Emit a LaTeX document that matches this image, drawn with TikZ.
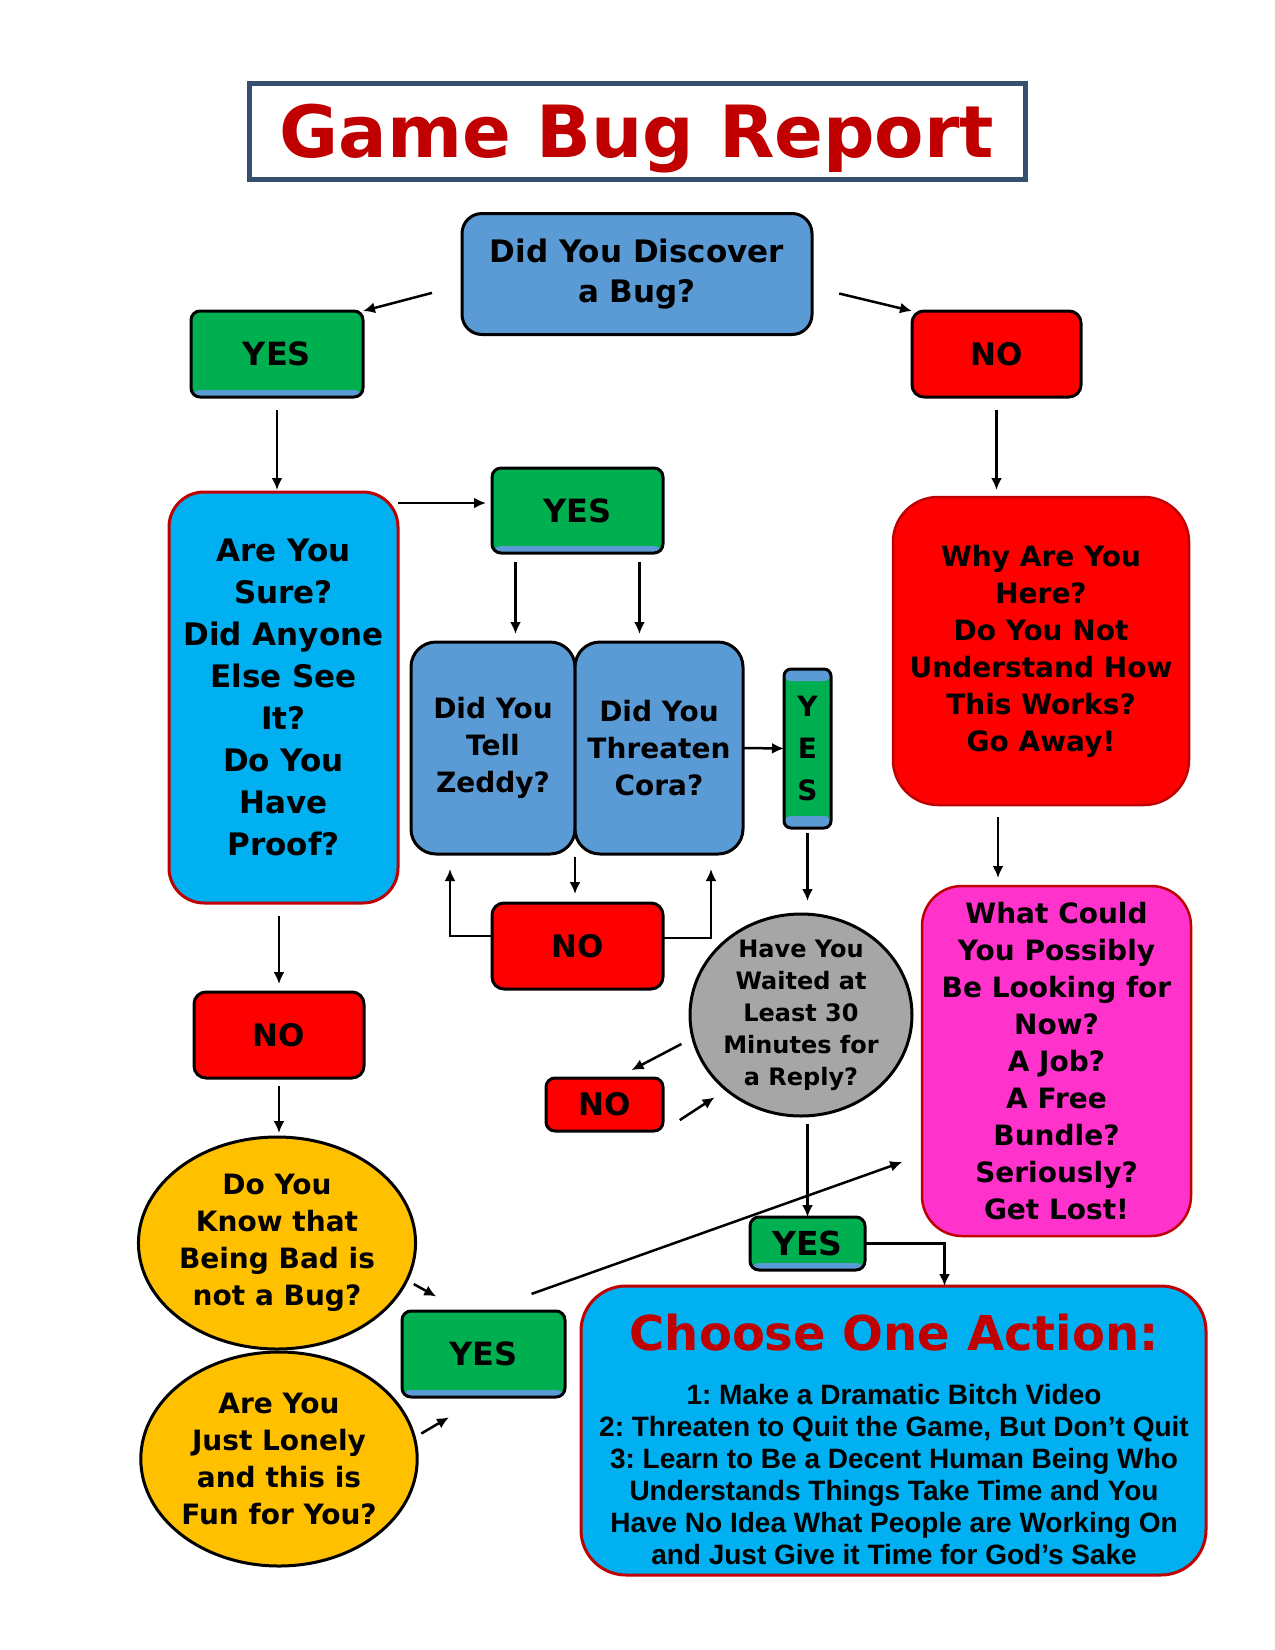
\documentclass[tikz,border=0pt]{standalone}
\usepackage{fontspec}
\setmainfont{DejaVu Sans}
\newfontfamily\buglistfont{Liberation Sans}
\usetikzlibrary{arrows.meta,shapes.geometric}
\definecolor{bugsteel}{HTML}{5B9BD5}
\definecolor{bugcyan}{HTML}{00B0F0}
\definecolor{buggreen}{HTML}{00B050}
\definecolor{bugred}{HTML}{FF0000}
\definecolor{bugdark}{HTML}{C00000}
\definecolor{buggold}{HTML}{FFC000}
\definecolor{buggray}{HTML}{A6A6A6}
\definecolor{bugpink}{HTML}{FF33CC}
\definecolor{bugframe}{HTML}{34506E}
\newcommand\bugsize[2]{\fontsize{#1}{#2}\selectfont}
\frenchspacing
\tikzset{
  bugstage/.style={
    rectangle,
    align=center,
    inner sep=0pt,
    outer sep=0pt,
    font=\bfseries
  },
  bugtitle/.style={bugstage,draw=bugframe,line width=5pt,text=bugdark,
                   font=\bfseries\bugsize{72}{80},text height=52pt,text depth=0pt},
  bugq/.style={bugstage,draw=black,line width=3pt,fill=bugsteel,rounded corners=20pt},
  bugcheck/.style={bugstage,draw=bugdark,line width=3pt,fill=bugcyan,rounded corners=35pt},
  bugangry/.style={bugstage,draw=bugdark,line width=2.5pt,rounded corners=45pt,
                   font=\bfseries\bugsize{28}{37}},
  bugyes/.style={bugstage,draw=black,line width=3pt,fill=buggreen,rounded corners=9pt,
                 font=\bfseries\bugsize{32}{38},
                 path picture={\fill[bugsteel] ([yshift=7pt]path picture bounding box.south west)
                   rectangle (path picture bounding box.south east);}},
  bugyesv/.style={bugstage,draw=black,line width=3pt,fill=buggreen,rounded corners=7pt,
                  font=\bfseries\bugsize{28}{42},
                  path picture={\fill[bugsteel] (path picture bounding box.south west)
                    rectangle ([yshift=12pt]path picture bounding box.south east);
                    \fill[bugsteel] (path picture bounding box.north west)
                    rectangle ([yshift=-12pt]path picture bounding box.north east);}},
  bugno/.style={bugstage,draw=black,line width=3pt,fill=bugred,rounded corners=12pt,
                font=\bfseries\bugsize{31}{38}},
  buground/.style={ellipse,draw=black,line width=3pt,align=center,outer sep=0pt,
                   inner xsep=0pt,inner ysep=-5pt},
  bugflow/.style={-{Latex[length=12pt,width=11pt]},line width=2.5pt}
}

\begin{document}
\begin{tikzpicture}[x=1pt,y=-1pt]
  \useasboundingbox[fill=white] (0,0) rectangle (1275,1650);

  \node[bugtitle,minimum width=776pt,minimum height=96pt] (title) at (637,131) {Game Bug Report};

  \node[bugq,minimum width=350pt,minimum height=121pt,font=\bfseries\bugsize{31}{40}]
    (disc) at (637,274) {Did You Discover\\a Bug?};
  \node[bugyes,minimum width=172pt,minimum height=86pt] (yes1) at (277,354) {YES};
  \node[bugno,minimum width=169pt,minimum height=86pt] (no1) at (996.5,354) {NO};

  % left column
  \node[bugcheck,minimum width=229pt,minimum height=411pt,font=\bfseries\bugsize{31}{42}]
    (sure) at (283.5,697.5) {Are You\\Sure?\\Did Anyone\\Else See\\It?\\Do You\\Have\\Proof?};
  \node[bugno,minimum width=170pt,minimum height=86pt] (no2) at (279,1035) {NO};
  \node[buground,fill=buggold,minimum width=274pt,minimum height=212pt,
        font=\bfseries\bugsize{28}{37}] (dok) at (277,1243)
    {Do You\\Know that\\Being Bad is\\not a Bug?};
  \node[buground,fill=buggold,minimum width=274pt,minimum height=214pt,
        font=\bfseries\bugsize{28}{37}] (lonely) at (279,1459)
    {Are You\\Just Lonely\\and this is\\Fun for You?};
  \node[bugyes,minimum width=163pt,minimum height=86pt] (yes3) at (483.5,1354) {YES};

  % middle
  \node[bugyes,minimum width=171pt,minimum height=85pt] (yes2) at (577.5,510.5) {YES};
  \node[bugq,rounded corners=25pt,minimum width=164pt,minimum height=212pt,
        font=\bfseries\bugsize{28}{37}] (zeddy) at (493,748) {Did You\\Tell\\Zeddy?};
  \node[bugq,rounded corners=25pt,minimum width=168pt,minimum height=212pt,
        font=\bfseries\bugsize{28}{37}] (cora) at (659,748) {Did You\\Threaten\\Cora?};
  \node[bugno,minimum width=171pt,minimum height=86pt] (no3) at (577.5,946) {NO};
  \node[bugyesv,minimum width=47pt,minimum height=159pt] (vyes) at (807.5,748.5) {Y\\E\\S};
  \node[buground,fill=buggray,minimum width=222pt,minimum height=202pt,
        font=\bfseries\bugsize{24}{32}] (wait) at (801,1015)
    {Have You\\Waited at\\Least 30\\Minutes for\\a Reply?};
  \node[bugno,rounded corners=9pt,minimum width=117pt,minimum height=53pt] (no4) at (604.5,1104.5) {NO};
  \node[bugyes,minimum width=115pt,minimum height=53pt,font=\bfseries\bugsize{33}{38}]
    (yes4) at (807.5,1243.5) {YES};

  % right column
  \node[bugangry,fill=bugred,minimum width=296pt,minimum height=308pt] (why) at (1041,651)
    {Why Are You\\Here?\\Do You Not\\Understand How\\This Works?\\Go Away!};
  \node[bugangry,fill=bugpink,rounded corners=40pt,minimum width=269pt,minimum height=350pt]
    (pink) at (1056.5,1061)
    {What Could\\You Possibly\\Be Looking for\\Now?\\A Job?\\A Free\\Bundle?\\Seriously?\\Get Lost!};

  \node[bugcheck,rounded corners=45pt,minimum width=625pt,minimum height=289pt] (choose) at (893.5,1430.5) {};
  \node[text=bugdark,font=\bfseries\bugsize{48}{56},anchor=base] (choosehead) at (894,1350)
    {Choose One Action:};
  \node[align=center,font=\buglistfont\bfseries\bugsize{28}{32}] (chooselist) at (894,1474)
    {1: Make a Dramatic Bitch Video\\
     2: Threaten to Quit the Game, But Don’t Quit\\
     3: Learn to Be a Decent Human Being Who\\
     Understands Things Take Time and You\\
     Have No Idea What People are Working On\\
     and Just Give it Time for God’s Sake};

  % connectors
  \draw[bugflow,shorten <=31pt] ([yshift=-11pt]disc.west) -- (yes1.north east);
  \draw[bugflow,shorten <=28pt] ([yshift=-13pt]disc.east) -- (no1.north west);
  \draw[bugflow,shorten <=13pt,shorten >=2pt] (yes1.south) -- (yes1.south |- sure.north);
  \draw[bugflow,shorten >=6pt] (sure.east |- yes2.175) -- (yes2.175);
  \draw[bugflow,shorten <=9pt,shorten >=8pt] ([xshift=-62pt]yes2.south) -- ([xshift=-62pt]yes2.south |- zeddy.north);
  \draw[bugflow,shorten <=9pt,shorten >=8pt] ([xshift=62pt]yes2.south) -- ([xshift=62pt]yes2.south |- cora.north);
  \draw[bugflow,shorten <=3pt,shorten >=9pt] (zeddy.south east) -- (zeddy.south east |- no3.north);
  \draw[bugflow,shorten >=15pt] ([yshift=10pt]no3.west) -| ([xshift=-43pt]zeddy.south);
  \draw[bugflow,shorten >=15pt] ([yshift=8pt]no3.east) -| ([xshift=52pt]cora.south);
  \draw[bugflow] (cora.east) -- (vyes.west);
  \draw[bugflow,shorten <=5pt,shorten >=13pt] (vyes.south) -- (vyes.south |- wait.north);
  \draw[bugflow,shorten <=13pt,shorten >=17pt] (wait.192) -- ([xshift=12pt]no4.north);
  \draw[bugflow,shorten <=20pt,shorten >=14pt] (no4.south east) -- (wait.225);
  \draw[bugflow,shorten <=8pt] (yes4.north |- wait.south) -- (yes4.north);
  \draw[bugflow] (yes4.east) -| ([xshift=51pt]choose.north);
  \draw[bugflow,shorten <=13pt,shorten >=7pt] (no1.south) -- (no1.south |- why.north);
  \draw[bugflow,shorten <=12pt,shorten >=8pt] ([xshift=-43pt]why.south) -- ([xshift=-43pt]why.south |- pink.north);
  \draw[bugflow,shorten <=13pt,shorten >=8pt] (no2.north |- sure.south) -- (no2.north);
  \draw[bugflow,shorten <=8pt,shorten >=4pt] (no2.south) -- (no2.south |- dok.north);
  \draw[bugflow,shorten <=8pt,shorten >=30pt] (dok.-16) -- ([xshift=-21pt]yes3.north);
  \draw[bugflow,shorten <=8pt,shorten >=40pt] (lonely.9) -- (yes3.south);
  \draw[bugflow,shorten <=51pt,shorten >=21pt] (yes3.north) -- ([yshift=-94pt]pink.west);
\end{tikzpicture}
\end{document}
